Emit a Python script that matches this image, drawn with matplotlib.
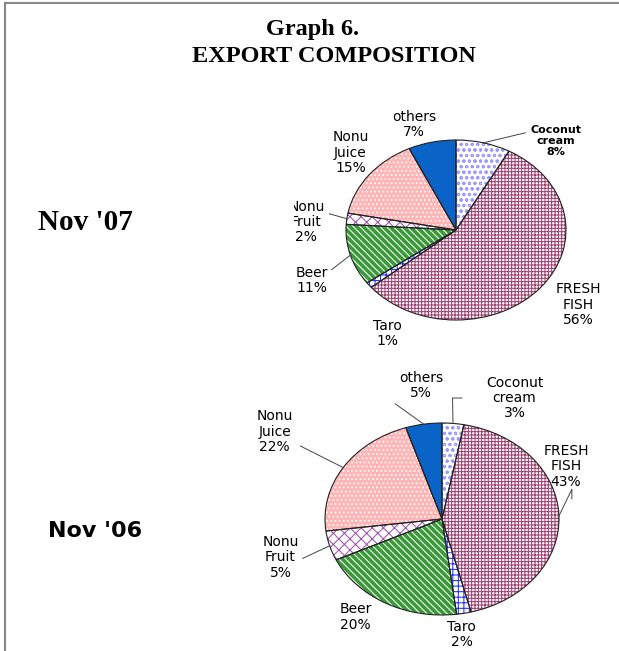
import numpy as np
import matplotlib
matplotlib.use("Agg")
import matplotlib.pyplot as plt
from matplotlib.lines import Line2D

# data
categories = ["Coconut\ncream", "FRESH\nFISH", "Taro", "Beer", "Nonu\nFruit", "Nonu\nJuice", "others"]
nov07 = [8, 56, 1, 11, 2, 15, 7]
nov06 = [3, 43, 2, 20, 5, 22, 5]

# styles: face, hatch colour, hatch
faces = ["white", "white", "white", "#3a9a3a", "white", "#ffb5b5", "#0a64c8"]
hcols = ["#9a9aff", "#a04070", "#2030ff", "white", "#a050b0", "white", "#0a64c8"]
hatches = ["ooo", "+++++", "+++", "\\" * 5, "xxx", "....", None]

plt.rcParams["hatch.linewidth"] = 0.75
W, H = 619, 651
fig = plt.figure(figsize=(W / 100, H / 100), dpi=100)


def px_axes(x0, y0, x1, y1):
    return fig.add_axes([x0 / W, 1 - y1 / H, (x1 - x0) / W, (y1 - y0) / H])


def draw_pie(ax, values, cx, cy, rx, ry, box, labpos, leaders, fs, weights):
    x0, y0, x1, y1 = box
    w, _ = ax.pie(values, startangle=90, counterclock=False, radius=1)
    for i, wd in enumerate(w):
        wd.set_facecolor(faces[i])
        wd.set_edgecolor(hcols[i])
        wd.set_linewidth(0)
        if hatches[i]:
            wd.set_hatch(hatches[i])
    ax.pie(values, startangle=90, counterclock=False, radius=1,
           wedgeprops=dict(fill=False, edgecolor="#222222", linewidth=0.8))
    ax.set_aspect("auto")
    ax.set_xlim((x0 - cx) / rx, (x1 - cx) / rx)
    ax.set_ylim((cy - y1) / ry, (cy - y0) / ry)
    ax.axis("off")
    total = sum(values)
    cum = np.cumsum([0] + list(values))
    for i, v in enumerate(values):
        mid = np.deg2rad(90 - (cum[i] + v / 2) / total * 360)
        lx, ly = labpos[i]
        ax.text(lx, ly, f"{categories[i]}\n{v}%", ha="center", va="center",
                fontsize=fs[i], fontweight=weights[i], family="DejaVu Sans",
                linespacing=1.12, clip_on=True)
        if leaders[i] is not None:
            pts = [(np.cos(mid), np.sin(mid))] + leaders[i]
            xs, ys = zip(*pts)
            ax.add_line(Line2D(xs, ys, color="#444444", lw=0.7))


# Nov '07
ax1 = px_axes(294, 100, 619, 360)
lab07 = [(0.91, 0.99), (1.11, -0.83), (-0.62, -1.15), (-1.31, -0.56),
         (-1.36, 0.09), (-0.96, 0.86), (-0.38, 1.17)]
lead07 = [[(0.63, 1.08)], None, None, [(-1.13, -0.44)],
          [(-1.15, 0.18)], None, None]
draw_pie(ax1, nov07, 456, 230, 110, 90, (294, 100, 619, 360), lab07, lead07,
         [8, 10, 10, 10, 10, 10, 10], ["bold"] + ["normal"] * 6)

# Nov '06
ax2 = px_axes(240, 365, 619, 651)
lab06 = [(0.62, 1.26), (1.06, 0.55), (0.17, -1.20), (-0.74, -1.02),
         (-1.38, -0.40), (-1.43, 0.91), (-0.18, 1.39)]
lead06 = [[(0.09, 1.26), (0.17, 1.26)], [(1.11, 0.31), (1.11, 0.21)], None, None,
          [(-1.19, -0.41)], [(-1.21, 0.76)], [(-0.40, 1.20)]]
draw_pie(ax2, nov06, 442, 519, 117, 96, (240, 365, 619, 651), lab06, lead06,
         [10] * 7, ["normal"] * 7)

fig.text(313 / W, 1 - 30 / H, "Graph 6.", ha="center", va="center",
         family="Liberation Serif", fontweight="bold", fontsize=17.5)
fig.text(334 / W, 1 - 57 / H, "EXPORT COMPOSITION", ha="center", va="center",
         family="Liberation Serif", fontweight="bold", fontsize=17.5)
fig.text(85 / W, 1 - 222 / H, "Nov '07", ha="center", va="center",
         family="Liberation Serif", fontweight="bold", fontsize=21)
fig.text(95 / W, 1 - 531 / H, "Nov '06", ha="center", va="center",
         family="DejaVu Sans", fontweight="bold", fontsize=16)

# frame (left and top edges)
fig.add_artist(Line2D([5 / W, 5 / W], [0, 1 - 3 / H], color="#888888", lw=1.5))
fig.add_artist(Line2D([5 / W, 1], [1 - 3 / H, 1 - 3 / H], color="#888888", lw=1.5))

fig.savefig("out.png", dpi=100)
